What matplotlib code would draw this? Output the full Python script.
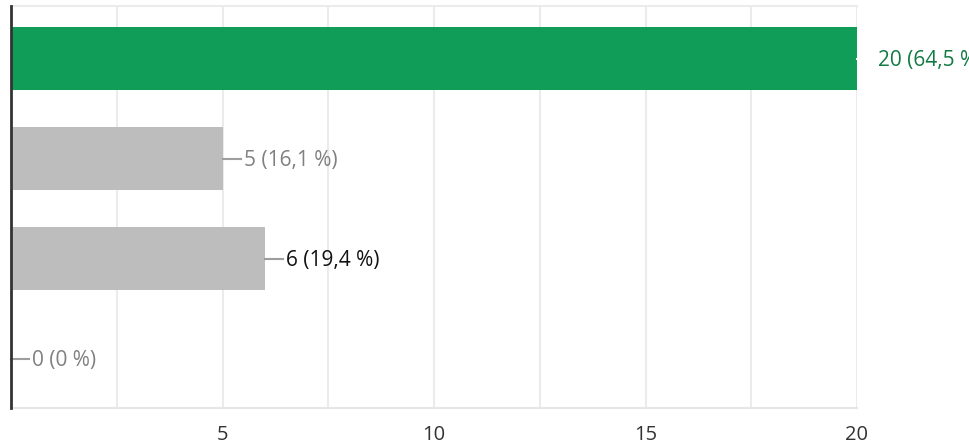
import matplotlib
matplotlib.use("Agg")
import matplotlib.pyplot as plt
from matplotlib import transforms

plt.rcParams['font.family'] = ['Open Sans', 'DejaVu Sans']

# Responses per answer option
values = [20, 5, 6, 0]
percents = ["64,5", "16,1", "19,4", "0"]
bar_colors = ["#0f9d58", "#bdbdbd", "#bdbdbd", "#bdbdbd"]
label_colors = ["#137a45", "#808080", "#111111", "#808080"]
xticks = [5, 10, 15, 20]

fig = plt.figure(figsize=(9.7, 4.47), dpi=100)
ax = fig.add_axes([11 / 970, 39 / 447, 846 / 970, 402 / 447])

pos = list(range(len(values)))
ax.barh(pos, values, height=0.635, color=bar_colors, zorder=2)

ax.set_xlim(0, 20)
ax.set_ylim(3.495, -0.525)
grid_pos = [2.5 * i for i in range(1, 9)]
ax.set_xticks(grid_pos)
ax.set_xticklabels([f"{int(g)}" if g in xticks else "" for g in grid_pos])
ax.tick_params(axis='x', length=0, labelsize=14.5, labelcolor="#333333", pad=12)
ax.set_yticks([])
ax.grid(axis='x', color="#ebebeb", linewidth=1.5, zorder=0)

for side in ("top", "right"):
    ax.spines[side].set_visible(False)
ax.spines["bottom"].set_color("#e6e6e6")
ax.spines["bottom"].set_linewidth(1.5)
ax.spines["left"].set_color("#333333")
ax.spines["left"].set_linewidth(2)
ax.spines["left"].set_zorder(3)

# top border line
ax.axhline(-0.525, color="#ebebeb", linewidth=1.5, zorder=0, clip_on=False)

for i, (v, p) in enumerate(zip(values, percents)):
    x0, y0 = ax.transData.transform((v, i))
    lc = "#ffffff" if i == 0 else "#9e9e9e"
    ax.plot([x0, x0 + 18], [y0, y0], transform=None, color=lc, linewidth=1.5,
            clip_on=False, zorder=3)
    txt_tr = transforms.offset_copy(ax.transData, fig=fig, x=21, y=-2, units='dots')
    ax.text(v, i, f"{v} ({p} %)", transform=txt_tr, ha='left', va='center',
            fontsize=15, color=label_colors[i], clip_on=False)

fig.savefig("out.png", dpi=100)
